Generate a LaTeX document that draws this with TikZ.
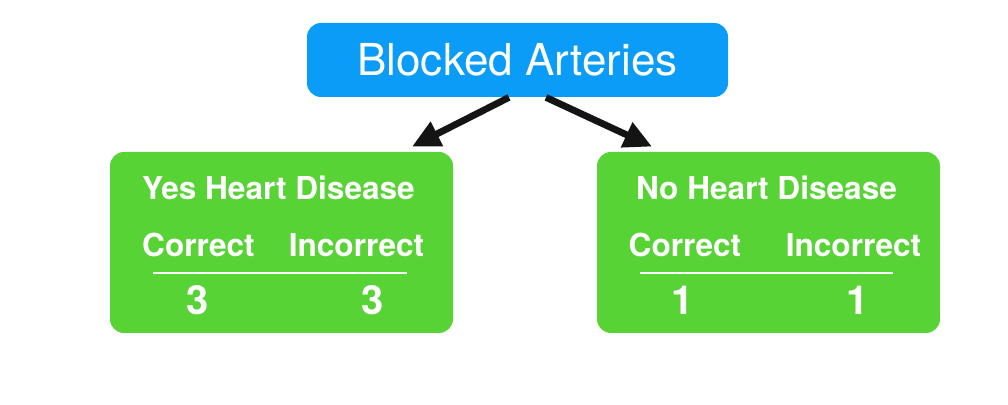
\documentclass[tikz,border=0pt]{standalone}
\usepackage{fontspec}
\setmainfont{TeX Gyre Heros}
\usetikzlibrary{arrows.meta}
\definecolor{topblue}{HTML}{0A9CF6}
\definecolor{leafgreen}{HTML}{57D335}
\begin{document}
\begin{tikzpicture}[x=1pt, y=1pt,
		box/.style={rounded corners=7pt, minimum height=#1, inner sep=0pt},
		lbl/.style={text=white, anchor=base, inner sep=0pt, font=\bfseries\fontsize{15.8}{18}\selectfont},
		num/.style={text=white, anchor=base, inner sep=0pt, font=\bfseries\fontsize{20}{24}\selectfont},
		arr/.style={-{Triangle[length=14pt, width=13pt]}, line width=3.4pt, black!92}]
	\useasboundingbox (0, 0) rectangle (504, -202.5);
	% root
	\node[box=37pt, fill=topblue, minimum width=210.5pt, text=white, font=\fontsize{22}{26}\selectfont] (top) at (258.75, -30) {Blocked Arteries};
	% leaves
	\node[box=90.5pt, fill=leafgreen, minimum width=171.5pt] (yes) at (140.75, -121.25) {};
	\node[box=90.5pt, fill=leafgreen, minimum width=171.5pt] (no) at (384.25, -121.25) {};
	\draw[arr] ([xshift=-4.25pt]top.south) -- ([xshift=65.25pt, yshift=2.5pt]yes.north);
	\draw[arr] ([xshift=14.25pt]top.south) -- ([xshift=-58.25pt, yshift=2.5pt]no.north);
	% yes heart disease
	\node[lbl] (yestitle) at (139.25, -100) {Yes Heart Disease};
	\node[lbl] (yescor) at (99.25, -128.5) {Correct};
	\node[lbl] (yesinc) at (178.25, -128.5) {Incorrect};
	\draw[white, line width=1pt] (76.5, -136.5) -- (203.5, -136.5);
	\node[num] (yescorn) at (99, -157.5) {3};
	\node[num] (yesincn) at (186.5, -157.5) {3};
	% no heart disease
	\node[lbl] (notitle) at (383.25, -100) {No Heart Disease};
	\node[lbl] (nocor) at (342.5, -128.5) {Correct};
	\node[lbl] (noinc) at (426.75, -128.5) {Incorrect};
	\draw[white, line width=1pt] (320, -136.5) -- (446.5, -136.5);
	\node[num] (nocorn) at (341.5, -157.5) {1};
	\node[num] (noincn) at (429, -157.5) {1};
\end{tikzpicture}
\end{document}
